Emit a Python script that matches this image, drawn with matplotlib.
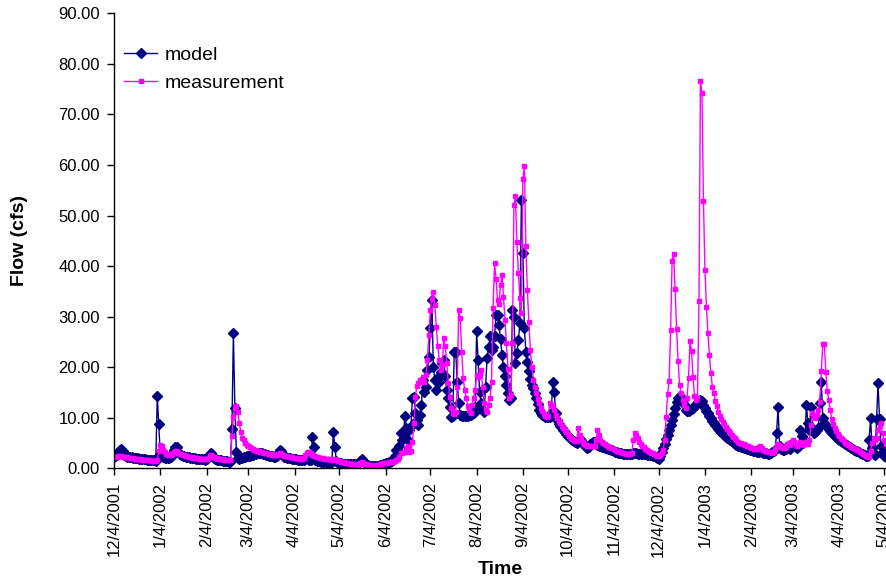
import matplotlib
matplotlib.use("Agg")
import matplotlib.pyplot as plt
from matplotlib.ticker import FormatStrFormatter
import pandas as pd

plt.rcParams['font.family'] = ['Liberation Sans', 'DejaVu Sans']

start_date = "2001-12-04"

# daily flow (cfs) from 12/4/2001, one value per day
model = [
    2.3, 2.4, 2.6, 3.2, 3.7, 3.8, 3.4, 2.6, 2.4, 2.3,
    2.3, 2.2, 2.2, 2.1, 2.1, 2.0, 2.0, 1.9, 1.9, 1.8,
    1.8, 1.8, 1.7, 1.7, 1.7, 1.6, 1.6, 1.6, 1.5, 14.3,
    8.7, 2.8, 2.4, 2.2, 2.1, 2.0, 2.0, 2.1, 2.3, 2.8,
    3.6, 4.3, 4.2, 3.3, 2.8, 2.6, 2.5, 2.4, 2.3, 2.3,
    2.2, 2.1, 2.1, 2.0, 2.0, 1.9, 1.9, 1.9, 1.8, 1.8,
    1.8, 1.7, 1.8, 2.2, 2.8, 3.0, 2.6, 2.0, 1.8, 1.7,
    1.7, 1.6, 1.6, 1.5, 1.5, 1.4, 1.4, 1.3, 1.3, 7.7,
    26.7, 11.9, 3.3, 2.0, 1.9, 2.0, 2.1, 2.2, 2.3, 2.4,
    2.4, 2.5, 2.6, 2.7, 2.8, 2.9, 3.0, 3.1, 3.1, 3.0,
    2.9, 2.8, 2.7, 2.6, 2.5, 2.4, 2.4, 2.3, 2.3, 2.5,
    3.1, 3.6, 3.4, 2.7, 2.3, 2.2, 2.1, 2.0, 2.0, 1.9,
    1.9, 1.8, 1.8, 1.7, 1.7, 1.6, 1.6, 1.6, 1.8, 2.2,
    1.9, 1.6, 1.6, 6.1, 4.2, 1.6, 1.5, 1.4, 1.4, 1.3,
    1.3, 1.3, 1.2, 1.2, 1.2, 1.1, 1.3, 7.1, 4.3, 1.4,
    1.1, 1.0, 1.0, 0.9, 0.9, 0.9, 0.8, 0.8, 0.8, 0.8,
    0.8, 0.8, 0.8, 0.9, 1.1, 1.5, 1.8, 1.4, 1.0, 0.8,
    0.6, 0.5, 0.4, 0.4, 0.4, 0.4, 0.5, 0.5, 0.6, 0.7,
    0.8, 0.9, 1.0, 1.1, 1.2, 1.3, 1.4, 1.6, 2.5, 3.6,
    3.4, 4.5, 6.9, 5.5, 7.0, 10.4, 8.0, 5.6, 7.6, 8.3,
    13.9, 14.2, 11.0, 9.5, 8.5, 10.5, 12.5, 17.5, 15.0, 16.0,
    19.5, 22.0, 27.7, 33.2, 20.1, 17.5, 15.5, 18.1, 17.0, 19.0,
    20.8, 21.4, 18.2, 15.5, 14.0, 12.2, 10.2, 10.3, 23.1, 23.0,
    17.0, 12.9, 10.6, 10.3, 10.3, 10.3, 10.4, 10.4, 10.5, 10.6,
    10.8, 11.0, 12.2, 27.1, 21.4, 15.0, 12.9, 11.6, 11.2, 16.0,
    21.8, 24.0, 26.1, 23.4, 24.0, 26.1, 30.4, 30.4, 28.4, 25.6,
    22.4, 20.1, 18.2, 16.5, 14.8, 13.5, 14.0, 31.3, 30.0, 20.8,
    22.8, 25.4, 28.7, 53.1, 42.6, 27.7, 23.1, 21.1, 19.3, 17.7,
    16.5, 15.8, 14.8, 14.0, 12.8, 11.5, 11.0, 10.6, 10.3, 10.2,
    10.1, 10.1, 10.2, 11.0, 17.1, 15.0, 11.0, 9.5, 8.8, 8.4,
    8.0, 7.5, 7.1, 6.8, 6.4, 6.1, 5.8, 5.6, 5.4, 5.2,
    5.0, 5.3, 5.8, 5.6, 5.0, 4.6, 4.3, 4.1, 4.3, 4.8,
    5.1, 5.3, 5.2, 4.9, 4.7, 4.5, 4.4, 4.3, 4.2, 4.1,
    4.0, 3.9, 3.8, 3.7, 3.6, 3.5, 3.3, 3.2, 3.1, 3.0,
    3.0, 2.9, 2.9, 2.9, 2.8, 2.8, 2.8, 2.9, 3.0, 3.0,
    3.0, 2.9, 2.9, 2.9, 2.8, 2.8, 2.8, 2.7, 2.7, 2.6,
    2.6, 2.5, 2.4, 2.2, 2.0, 1.8, 2.5, 3.3, 4.0, 4.8,
    5.7, 6.5, 7.5, 8.5, 9.5, 10.8, 12.0, 13.2, 14.0, 14.3,
    14.2, 13.5, 12.8, 11.5, 11.3, 11.4, 11.6, 11.8, 12.0, 12.3,
    12.6, 12.9, 13.2, 13.6, 13.3, 12.6, 12.0, 11.4, 10.9, 10.4,
    9.9, 9.4, 8.9, 8.5, 8.1, 7.7, 7.4, 7.1, 6.8, 6.5,
    6.2, 6.0, 5.8, 5.6, 5.4, 5.2, 4.9, 4.7, 4.5, 4.4,
    4.3, 4.2, 4.1, 4.0, 3.9, 3.8, 3.7, 3.6, 3.5, 3.5,
    3.4, 3.3, 3.3, 3.4, 3.2, 3.1, 3.0, 3.0, 2.9, 2.9,
    3.0, 3.2, 3.4, 3.6, 6.9, 12.2, 4.5, 3.8, 3.7, 3.6,
    3.8, 4.2, 4.0, 3.8, 4.2, 5.0, 4.6, 4.2, 4.0, 4.5,
    7.6, 6.3, 5.0, 5.5, 12.5, 9.0, 7.5, 12.2, 8.0, 7.0,
    7.2, 7.5, 8.0, 12.9, 17.0, 10.0, 9.0, 8.5, 8.2, 7.8,
    7.4, 7.0, 6.7, 6.4, 6.1, 5.8, 5.6, 5.4, 5.2, 5.0,
    4.8, 4.6, 4.4, 4.2, 4.0, 3.8, 3.7, 3.5, 3.4, 3.2,
    3.1, 2.9, 2.8, 2.6, 2.5, 2.4, 5.6, 9.9, 4.0, 3.0,
    2.6, 9.7, 16.8, 9.7, 4.4, 3.2, 2.5, 2.2,
]

measurement = [
    2.2, 2.2, 2.3, 2.4, 2.4, 2.4, 2.3, 2.3, 2.2, 2.2,
    2.1, 2.1, 2.0, 2.0, 1.9, 1.9, 1.9, 1.8, 1.8, 1.7,
    1.7, 1.7, 1.6, 1.6, 1.6, 1.5, 1.5, 1.5, 1.4, 1.6,
    3.5, 4.6, 4.4, 3.6, 3.2, 2.9, 2.7, 2.6, 2.6, 2.8,
    3.2, 3.5, 3.4, 3.1, 2.9, 2.8, 2.7, 2.6, 2.5, 2.4,
    2.3, 2.3, 2.2, 2.1, 2.1, 2.0, 2.0, 1.9, 1.9, 1.8,
    1.8, 1.8, 1.8, 2.0, 2.4, 2.6, 2.4, 2.2, 2.1, 2.0,
    1.9, 1.9, 1.8, 1.8, 1.7, 1.7, 1.6, 1.6, 1.6, 6.3,
    10.2, 11.9, 12.3, 11.2, 8.9, 7.2, 6.0, 5.5, 5.0, 4.7,
    4.4, 4.2, 4.0, 3.8, 3.7, 3.6, 3.5, 3.4, 3.3, 3.2,
    3.1, 3.0, 3.0, 2.9, 2.8, 2.8, 2.7, 2.6, 2.6, 2.6,
    2.8, 3.0, 2.9, 2.7, 2.5, 2.4, 2.4, 2.3, 2.2, 2.2,
    2.1, 2.1, 2.0, 2.0, 1.9, 1.9, 1.9, 2.1, 2.6, 3.1,
    3.2, 3.3, 3.0, 2.7, 2.5, 2.4, 2.3, 2.2, 2.1, 2.0,
    2.0, 1.9, 1.9, 1.8, 1.8, 1.8, 1.7, 1.9, 1.8, 1.6,
    1.5, 1.4, 1.3, 1.2, 1.2, 1.1, 1.0, 1.0, 0.9, 0.9,
    0.8, 0.8, 0.7, 0.7, 0.8, 1.0, 1.2, 1.1, 0.9, 0.8,
    0.7, 0.6, 0.6, 0.5, 0.5, 0.5, 0.6, 0.7, 0.8, 0.9,
    1.0, 1.0, 1.1, 1.1, 1.2, 1.2, 1.3, 1.2, 1.4, 1.6,
    1.8, 2.3, 3.0, 3.0, 3.3, 3.3, 4.0, 4.5, 3.3, 3.5,
    5.3, 8.9, 14.2, 16.3, 16.8, 17.5, 17.5, 18.0, 17.0, 18.5,
    21.4, 26.4, 31.3, 33.4, 34.8, 32.3, 28.0, 24.1, 21.4, 19.5,
    20.5, 25.7, 24.1, 20.8, 16.8, 14.2, 11.9, 11.0, 10.8, 11.2,
    16.0, 31.3, 29.7, 23.1, 17.8, 15.5, 14.0, 12.4, 11.5, 10.9,
    12.5, 14.0, 15.5, 18.5, 18.0, 18.5, 19.5, 16.0, 13.0, 11.5,
    11.2, 12.5, 13.9, 17.1, 31.7, 40.6, 37.4, 33.3, 32.5, 36.3,
    38.3, 33.9, 29.4, 24.7, 19.7, 13.9, 14.5, 24.7, 52.0, 53.8,
    44.7, 38.7, 33.7, 30.7, 57.2, 59.7, 43.9, 35.2, 29.0, 23.4,
    20.0, 17.5, 16.0, 14.8, 13.8, 12.9, 12.0, 11.3, 10.8, 10.4,
    10.2, 10.4, 12.9, 12.5, 12.3, 11.5, 10.6, 10.0, 9.4, 8.9,
    8.4, 7.9, 7.5, 7.1, 6.7, 6.3, 6.0, 5.7, 5.5, 5.4,
    5.4, 7.9, 6.6, 5.8, 5.3, 4.9, 4.6, 4.5, 4.4, 4.4,
    4.4, 4.4, 4.5, 5.5, 7.6, 6.6, 5.6, 5.2, 5.0, 4.8,
    4.7, 4.5, 4.3, 4.1, 4.0, 3.8, 3.6, 3.5, 3.4, 3.3,
    3.2, 3.1, 3.0, 2.9, 2.8, 2.8, 2.8, 3.0, 5.6, 7.0,
    6.6, 6.0, 5.3, 4.8, 4.5, 4.2, 3.9, 3.7, 3.5, 3.3,
    3.1, 3.0, 2.8, 2.7, 2.5, 2.4, 2.6, 3.0, 3.7, 5.5,
    10.2, 14.7, 17.3, 27.4, 41.1, 42.3, 35.5, 27.6, 21.3, 16.5,
    14.9, 13.5, 12.5, 11.9, 14.0, 17.8, 25.1, 23.3, 18.0, 14.4,
    13.6, 14.0, 33.0, 76.6, 74.3, 52.8, 39.3, 32.0, 26.7, 22.4,
    18.8, 16.1, 14.9, 13.4, 12.3, 11.2, 10.4, 9.8, 9.2, 8.7,
    8.2, 7.8, 7.4, 7.0, 6.6, 6.2, 5.9, 5.6, 5.3, 5.1,
    5.0, 4.9, 4.8, 4.6, 4.5, 4.4, 4.2, 4.1, 4.0, 3.9,
    3.8, 3.9, 4.3, 4.5, 4.0, 3.7, 3.5, 3.4, 3.3, 3.2,
    3.2, 3.1, 3.3, 3.8, 4.6, 4.8, 4.5, 4.3, 4.1, 4.0,
    4.2, 4.8, 5.0, 4.6, 5.2, 5.6, 5.2, 4.8, 4.5, 4.8,
    5.3, 5.0, 4.7, 4.8, 5.2, 4.9, 5.5, 8.5, 10.9, 10.4,
    9.9, 10.5, 11.5, 13.2, 19.3, 24.6, 24.6, 19.1, 15.3, 13.5,
    11.5, 9.7, 8.7, 7.9, 7.3, 6.8, 6.4, 6.0, 5.7, 5.4,
    5.1, 4.9, 4.7, 4.5, 4.3, 4.1, 4.0, 3.8, 3.6, 3.4,
    3.2, 3.0, 2.8, 2.6, 2.4, 2.2, 2.5, 3.5, 5.0, 6.0,
    5.5, 6.0, 7.5, 8.6, 9.0, 7.0, 5.5, 4.8,
]

model_dates = pd.date_range(start_date, periods=len(model), freq="D")
meas_dates = pd.date_range(start_date, periods=len(measurement), freq="D")
tick_dates = pd.date_range(start_date, "2003-05-04", freq=pd.DateOffset(months=1))

fig = plt.figure(figsize=(8.87, 5.81), dpi=100)
ax = fig.add_axes([114 / 887, 1 - 468.3 / 581, 1 - 114 / 887, 455 / 581])

ax.plot(model_dates, model, color="#000080", lw=1, marker="D", ms=5.4, label="model")
ax.plot(meas_dates, measurement, color="#FF00FF", lw=1, marker="s", ms=3.2, label="measurement")

ax.set_xlim(pd.Timestamp(start_date), pd.Timestamp(start_date) + pd.Timedelta(days=518))
ax.set_ylim(0, 90)
ax.set_yticks(range(0, 91, 10))
ax.yaxis.set_major_formatter(FormatStrFormatter("%.2f"))
ax.set_xticks(tick_dates)
ax.set_xticklabels([f"{d.month}/{d.day}/{d.year}" for d in tick_dates], rotation=90)
ax.tick_params(axis="both", direction="out", length=5, width=1, labelsize=12, pad=5)

for side in ["top", "right"]:
    ax.spines[side].set_visible(False)
for side in ["left", "bottom"]:
    ax.spines[side].set_linewidth(1)

fig.text(20 / 887, 1 - 241 / 581, "Flow (cfs)", rotation=90, ha="center", va="center",
         fontsize=14, fontweight="bold")
fig.text(500 / 887, 1 - 569 / 581, "Time", ha="center", va="center",
         fontsize=14, fontweight="bold")

ax.legend(loc="upper left", bbox_to_anchor=(124 / 887, 1 - 46 / 581),
          bbox_transform=fig.transFigure, frameon=False, fontsize=14,
          borderpad=0, borderaxespad=0, handlelength=1.7, handletextpad=0.4,
          labelspacing=0.55)

fig.savefig("out.png", dpi=100)
